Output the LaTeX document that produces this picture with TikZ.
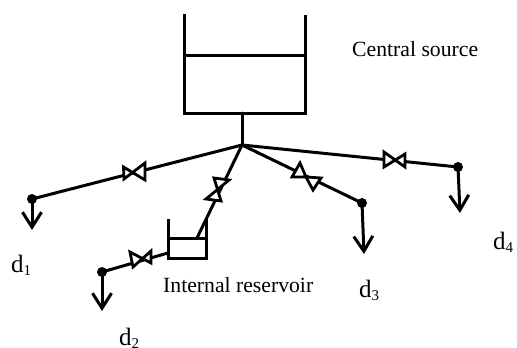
\documentclass[tikz,border=0pt]{standalone}
\usepackage{fontspec}
\setmainfont{Liberation Serif}
\usetikzlibrary{arrows.meta}
\tikzset{
  x=1pt,y=-1pt,
  pipe/.style={line width=3pt,line cap=round,line join=miter},
  wall/.style={line width=3pt,line cap=butt},
  valve/.style={line width=2.8pt,fill=white,line join=miter},
  junction/.style={circle,fill=black,inner sep=0pt,minimum size=10pt},
  demand/.style={line width=3pt,-{Straight Barb[length=15pt,width=19pt,line width=3pt]}},
  lab/.style={anchor=base west,inner sep=0pt,font=\fontsize{21.7}{22}\selectfont},
  dlab/.style={anchor=base west,inner sep=0pt,font=\fontsize{25}{25}\selectfont}
}
\newcommand{\sub}[1]{\raisebox{-3pt}{\fontsize{15}{15}\selectfont #1}}
\begin{document}
\begin{tikzpicture}
\useasboundingbox (0,0) rectangle (517,348);
\fill[white] (0,0) rectangle (517,348);
\coordinate (hub) at (242,145);
\coordinate (tankout) at (242,113);
\coordinate (resin) at (197,238);
\coordinate (resout) at (168,253);
\node[junction] (n1) at (32,199) {};
\node[junction] (n2) at (102,272) {};
\node[junction] (n3) at (362,203) {};
\node[junction] (n4) at (458,167) {};
\coordinate (t1) at (32,230);
\coordinate (t2) at (102,311);
\coordinate (t3) at (364,254);
\coordinate (t4) at (460,213);
% central tank
\draw[wall] (184,14) -- (184,113) -- (305,113) -- (305,15);
\draw[wall] (184,55) -- (307,55);
\draw[pipe] (tankout) -- (hub);
% internal reservoir
\draw[wall] (168,219) -- (168,258) -- (206,258) -- (206,219);
\draw[wall] (168,238) -- (208,238);
% pipes
\draw[pipe] (hub) -- (n1.center);
\draw[pipe] (hub) -- (resin);
\draw[pipe] (hub) -- (n3.center);
\draw[pipe] (hub) -- (n4.center);
\draw[pipe] (resout) -- (n2.center);
% valves
\draw[valve] (123.5,167) -- (145,180) -- (145,163) -- (124,179) -- cycle;
\draw[valve] (130,252) -- (151,263) -- (151,251) -- (133,267) -- cycle;
\draw[valve] (214,178) -- (229,180) -- (206,199) -- (221,201) -- cycle;
\draw[valve] (300,163) -- (292,177) -- (306,177) -- cycle;
\draw[valve] (306,177) -- (321,178) -- (313,190) -- cycle;
\draw[valve] (384,152) -- (405,167) -- (405,154) -- (384,167) -- cycle;
% demands
\draw[demand] (n1.center) -- (t1);
\draw[demand] (n2.center) -- (t2);
\draw[demand] (n3.center) -- (t3);
\draw[demand] (n4.center) -- (t4);
% labels
\node[lab] (source) at (352,56) {Central source};
\node[lab] (reservoir) at (163,292) {Internal reservoir};
\node[dlab] (d1) at (11,272) {d\sub{1}};
\node[dlab] (d2) at (119,345) {d\sub{2}};
\node[dlab] (d3) at (359,297) {d\sub{3}};
\node[dlab] (d4) at (493,249) {d\sub{4}};
\end{tikzpicture}
\end{document}
